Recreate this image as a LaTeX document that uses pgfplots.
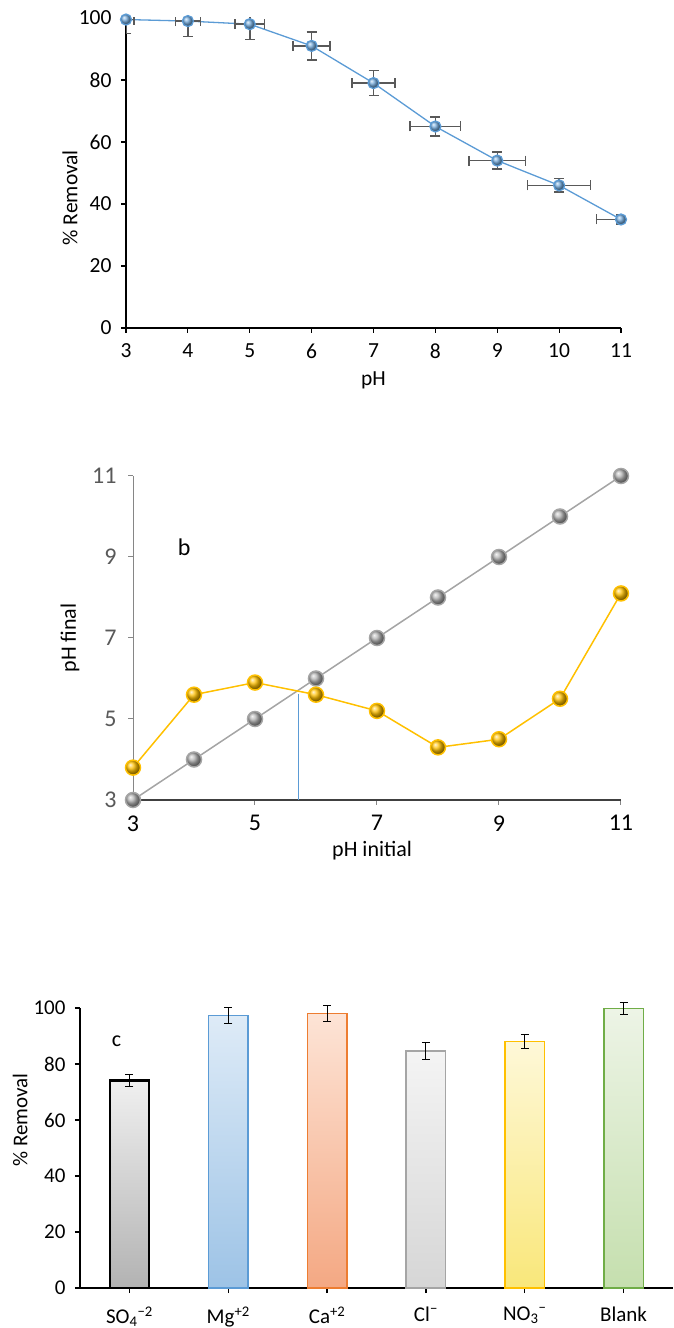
\documentclass[border=0pt]{standalone}
\usepackage{pgfplots}
\pgfplotsset{compat=1.18}
\usepackage{fontspec}
\setmainfont{Carlito}
\definecolor{mblue}{HTML}{5B9BD5}
\definecolor{mgold}{HTML}{FFC000}
\definecolor{mgray}{HTML}{A5A5A5}
\definecolor{errgray}{HTML}{595959}
\definecolor{tickgray}{HTML}{595959}
\definecolor{axgray}{HTML}{868686}
\definecolor{morange}{HTML}{ED7D31}
\definecolor{mgreen}{HTML}{70AD47}
\definecolor{blueB}{HTML}{9DC3E6}\definecolor{blueT}{HTML}{DEEBF7}
\definecolor{orB}{HTML}{F4A883}\definecolor{orT}{HTML}{FDE4D6}
\definecolor{grB}{HTML}{D6D6D6}\definecolor{grT}{HTML}{F4F4F4}
\definecolor{yeB}{HTML}{F9E77A}\definecolor{yeT}{HTML}{FEF8D8}
\definecolor{gnB}{HTML}{C5DFAE}\definecolor{gnT}{HTML}{EDF4E6}
\begin{document}
\begin{tikzpicture}[x=1pt,y=1pt]
\useasboundingbox (0,0) rectangle (673,1328);
% ---------------- panel a
\begin{axis}[
  at={(126pt,1000pt)}, anchor=south west,
  scale only axis, width=495pt, height=310pt,
  xmin=3, xmax=11, ymin=0, ymax=100,
  axis lines=left, axis line style={line width=1.6pt, -},
  xtick={3,...,11}, ytick={0,20,...,100},
  tick align=outside, major tick length=5pt,
  tick style={line width=1.2pt, black},
  tick label style={font=\fontsize{21.5}{25}\selectfont},
  x tick label style={yshift=-7pt},
  y tick label style={xshift=-6pt},
  /pgf/number format/assume math mode=true,
  xlabel={pH}, ylabel={\% Removal},
  label style={font=\fontsize{21.5}{25}\selectfont},
  xlabel style={at={(axis description cs:0.5,-0.168)}, anchor=center},
  ylabel style={at={(axis description cs:-0.113,0.42)}, anchor=center},
  clip mode=individual,
]
\addplot[color=mblue, line width=1.3pt, mark=ball, mark size=5.5pt,
  mark options={ball color=mblue!85!white},
  error bars/.cd, x dir=both, x explicit, y dir=both, y explicit,
  error bar style={line width=1.5pt, errgray},
  error mark options={rotate=90, line width=1.5pt, errgray, mark size=5pt}]
coordinates {
(3,99.5) +- (0.13,4.5)
(4,99) +- (0.2,5)
(5,98) +- (0.24,5)
(6,91) +- (0.3,4.5)
(7,79) +- (0.35,4)
(8,65) +- (0.41,3)
(9,54) +- (0.46,2.7)
(10,46) +- (0.51,2.2)
(11,35) +- (0.4,1.5)
};
\end{axis}
% ---------------- panel b
\begin{axis}[
  at={(133pt,528pt)}, anchor=south west,
  scale only axis, width=488pt, height=324pt,
  xmin=3, xmax=11, ymin=3, ymax=11,
  axis x line=bottom, axis y line=left,
  x axis line style={line width=1.4pt, black!75, -},
  y axis line style={line width=1pt, axgray, -},
  xtick={3,5,...,11}, ytick={3,5,...,11},
  tick align=outside, major tick length=5pt,
  tick style={line width=1pt, axgray},
  tick label style={font=\fontsize{24}{28}\selectfont, text=tickgray},
  x tick label style={text=black, yshift=-7pt},
  y tick label style={xshift=-8pt},
  /pgf/number format/assume math mode=true,
  xlabel={pH initial}, ylabel={pH final},
  label style={font=\fontsize{22}{26}\selectfont},
  xlabel style={at={(axis description cs:0.49,-0.157)}, anchor=center},
  ylabel style={at={(axis description cs:-0.129,0.5)}, anchor=center},
  clip mode=individual,
]
\addplot[color=mblue, line width=1pt] coordinates {(5.72,3) (5.72,5.62)};
\addplot[color=mgray, line width=1.5pt, mark=ball, mark size=7.5pt,
  mark options={ball color=mgray!85!white}]
coordinates {(3,3) (4,4) (5,5) (6,6) (7,7) (8,8) (9,9) (10,10) (11,11)};
\addplot[color=mgold, line width=1.5pt, mark=ball, mark size=7.5pt,
  mark options={ball color=mgold}]
coordinates {(3,3.8) (4,5.6) (5,5.9) (6,5.6) (7,5.2) (8,4.3) (9,4.5) (10,5.5) (11,8.1)};
\node[font=\fontsize{24}{28}\selectfont, anchor=center] at (axis cs:3.84,9.25) {b};
\end{axis}
% ---------------- panel c
\begin{axis}[
  at={(80pt,40pt)}, anchor=south west,
  scale only axis, width=593pt, height=280pt,
  xmin=-0.5, xmax=5.5, ymin=0, ymax=100,
  axis x line=bottom, axis y line=left,
  axis line style={line width=1.8pt, black, -},
  xtick={0,...,5},
  xticklabels={SO\textsubscript{4}\textsuperscript{−2}, Mg\textsuperscript{+2}, Ca\textsuperscript{+2}, Cl\textsuperscript{−}, NO\textsubscript{3}\textsuperscript{−}, Blank},
  ytick={0,20,...,100},
  tick align=outside, major tick length=5pt,
  tick style={line width=1.2pt, black},
  tick label style={font=\fontsize{21}{25}\selectfont},
  x tick label style={yshift=-10pt},
  y tick label style={xshift=-6pt},
  /pgf/number format/assume math mode=true,
  ylabel={\% Removal},
  label style={font=\fontsize{21}{25}\selectfont},
  ylabel style={at={(axis description cs:-0.101,0.6)}, anchor=center},
  clip=false,
]
\pgfplotsset{cbar/.style={ybar, bar width=0.4, bar shift=0pt},
  cerr/.style={error bars/.cd, y dir=both, y explicit,
  error bar style={line width=1pt, black},
  error mark options={rotate=90, line width=1pt, black, mark size=4pt}}}
\addplot[cbar, draw=black, line width=2.2pt, bottom color=black!30, top color=black!6, cerr]
coordinates {(0,74.1) +- (0,2.3)};
\addplot[cbar, draw=mblue, line width=1.4pt, bottom color=blueB, top color=blueT, cerr]
coordinates {(1,97.3) +- (0,3)};
\addplot[cbar, draw=morange, line width=1.4pt, bottom color=orB, top color=orT, cerr]
coordinates {(2,98.1) +- (0,2.9)};
\addplot[cbar, draw=mgray, line width=1.4pt, bottom color=grB, top color=grT, cerr]
coordinates {(3,84.7) +- (0,3)};
\addplot[cbar, draw=mgold, line width=1.4pt, bottom color=yeB, top color=yeT, cerr]
coordinates {(4,88.1) +- (0,2.5)};
\addplot[cbar, draw=mgreen, line width=1.4pt, bottom color=gnB, top color=gnT, cerr]
coordinates {(5,99.8) +- (0,2.3)};
\node[font=\fontsize{22}{26}\selectfont, anchor=center] at (axis cs:-0.13,88) {c};
\end{axis}
\end{tikzpicture}
\end{document}
